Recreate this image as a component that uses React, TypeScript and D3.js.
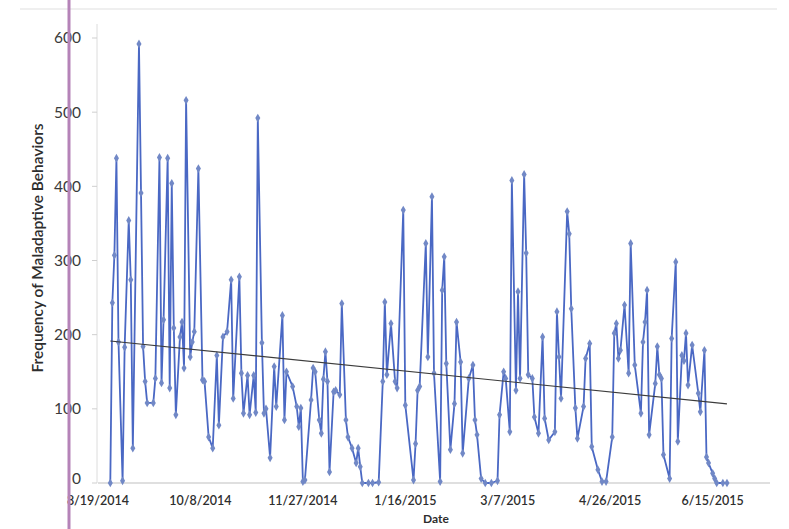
import { useEffect, useRef } from 'react'
import * as d3 from 'd3'

const dates = [
  '2014-08-25', '2014-08-26', '2014-08-27', '2014-08-28', '2014-08-29', '2014-08-31', '2014-09-01', '2014-09-03',
  '2014-09-04', '2014-09-05', '2014-09-08', '2014-09-09', '2014-09-10', '2014-09-11', '2014-09-12', '2014-09-15',
  '2014-09-16', '2014-09-18', '2014-09-19', '2014-09-20', '2014-09-22', '2014-09-23', '2014-09-24', '2014-09-25',
  '2014-09-26', '2014-09-28', '2014-09-29', '2014-09-30', '2014-10-01', '2014-10-03', '2014-10-04', '2014-10-05',
  '2014-10-07', '2014-10-09', '2014-10-10', '2014-10-12', '2014-10-14', '2014-10-16', '2014-10-17', '2014-10-19',
  '2014-10-21', '2014-10-23', '2014-10-24', '2014-10-27', '2014-10-28', '2014-10-29', '2014-10-31', '2014-11-01',
  '2014-11-03', '2014-11-04', '2014-11-05', '2014-11-07', '2014-11-08', '2014-11-09', '2014-11-11', '2014-11-13',
  '2014-11-14', '2014-11-17', '2014-11-18', '2014-11-19', '2014-11-22', '2014-11-24', '2014-11-25', '2014-11-26',
  '2014-11-27', '2014-11-28', '2014-12-01', '2014-12-02', '2014-12-03', '2014-12-05', '2014-12-06', '2014-12-07',
  '2014-12-08', '2014-12-09', '2014-12-10', '2014-12-12', '2014-12-13', '2014-12-15', '2014-12-16', '2014-12-18',
  '2014-12-19', '2014-12-21', '2014-12-23', '2014-12-24', '2014-12-25', '2014-12-26', '2014-12-29', '2014-12-31',
  '2015-01-03', '2015-01-05', '2015-01-06', '2015-01-07', '2015-01-09', '2015-01-11', '2015-01-12', '2015-01-15',
  '2015-01-16', '2015-01-20', '2015-01-21', '2015-01-22', '2015-01-23', '2015-01-26', '2015-01-27', '2015-01-29',
  '2015-01-30', '2015-02-02', '2015-02-03', '2015-02-04', '2015-02-05', '2015-02-07', '2015-02-09', '2015-02-10',
  '2015-02-12', '2015-02-13', '2015-02-16', '2015-02-18', '2015-02-19', '2015-02-20', '2015-02-22', '2015-02-24',
  '2015-02-27', '2015-03-02', '2015-03-03', '2015-03-05', '2015-03-06', '2015-03-08', '2015-03-09', '2015-03-11',
  '2015-03-12', '2015-03-13', '2015-03-15', '2015-03-16', '2015-03-17', '2015-03-19', '2015-03-20', '2015-03-22',
  '2015-03-24', '2015-03-25', '2015-03-27', '2015-03-30', '2015-03-31', '2015-04-01', '2015-04-02', '2015-04-05',
  '2015-04-06', '2015-04-07', '2015-04-09', '2015-04-10', '2015-04-13', '2015-04-14', '2015-04-16', '2015-04-17',
  '2015-04-20', '2015-04-22', '2015-04-24', '2015-04-27', '2015-04-28', '2015-04-29', '2015-04-30', '2015-05-01',
  '2015-05-03', '2015-05-05', '2015-05-06', '2015-05-08', '2015-05-11', '2015-05-12', '2015-05-13', '2015-05-14',
  '2015-05-15', '2015-05-18', '2015-05-19', '2015-05-20', '2015-05-21', '2015-05-22', '2015-05-25', '2015-05-26',
  '2015-05-28', '2015-05-29', '2015-05-31', '2015-06-01', '2015-06-02', '2015-06-03', '2015-06-05', '2015-06-08',
  '2015-06-09', '2015-06-11', '2015-06-12', '2015-06-13', '2015-06-15', '2015-06-16', '2015-06-17', '2015-06-20',
  '2015-06-22'
]

// frequency of maladaptive behaviors per day
const frequency = [
  0, 243, 307, 438, 190, 3, 183, 354,
  274, 47, 592, 391, 184, 137, 108, 108,
  141, 439, 135, 220, 438, 128, 404, 209,
  92, 197, 217, 155, 516, 170, 190, 204,
  424, 139, 137, 62, 47, 172, 78, 197,
  204, 274, 114, 278, 148, 94, 145, 92,
  145, 95, 492, 189, 94, 100, 34, 157,
  103, 226, 85, 150, 130, 103, 76, 101,
  2, 4, 112, 155, 150, 85, 67, 140,
  177, 137, 15, 123, 125, 119, 242, 85,
  62, 47, 27, 47, 22, 0, 0, 0,
  1, 137, 244, 146, 215, 137, 128, 368,
  105, 4, 53, 125, 130, 323, 170, 386,
  148, 2, 260, 305, 161, 45, 107, 217,
  163, 40, 141, 159, 85, 65, 6, 0,
  0, 3, 92, 150, 141, 69, 408, 125,
  258, 141, 416, 310, 146, 141, 89, 67,
  197, 87, 58, 69, 231, 170, 114, 366,
  336, 235, 101, 60, 103, 168, 188, 49,
  18, 2, 2, 62, 202, 215, 168, 179,
  240, 148, 323, 159, 94, 190, 217, 260,
  65, 134, 184, 146, 141, 38, 6, 195,
  298, 56, 172, 165, 202, 132, 186, 121,
  96, 179, 35, 27, 13, 6, 0, 0,
  0
]

const xTickDates = ['2014-08-19', '2014-10-08', '2014-11-27', '2015-01-16', '2015-03-07', '2015-04-26', '2015-06-15']
const yTicks = [0, 100, 200, 300, 400, 500, 600]

const W = 789
const H = 529

const App = () => {
  const svgRef = useRef<SVGSVGElement>(null)

  useEffect(() => {
    const svg = d3.select(svgRef.current)
    svg.selectAll('*').remove()

    const parse = d3.timeParse('%Y-%m-%d')
    const data = dates.map((d, i) => ({ date: parse(d) as Date, value: frequency[i] }))

    const xScale = d3.scaleTime()
      .domain([parse('2014-08-19') as Date, parse('2015-07-13') as Date])
      .range([98, 770])

    const yScale = d3.scaleLinear()
      .domain([0, 600])
      .range([483, 38])

    const font = 'Lato, "Open Sans", sans-serif'

    svg.append('rect')
      .attr('width', W)
      .attr('height', H)
      .attr('fill', '#ffffff')

    // faint frame of the scanned chart
    svg.append('line')
      .attr('x1', 20).attr('x2', W - 12)
      .attr('y1', 9).attr('y2', 9)
      .attr('stroke', '#efefef')
      .attr('stroke-width', 2)

    // axes lines
    svg.append('line')
      .attr('x1', xScale.range()[0]).attr('x2', xScale.range()[1])
      .attr('y1', yScale(0)).attr('y2', yScale(0))
      .attr('stroke', '#d4d4d4')
      .attr('stroke-width', 1.5)

    svg.append('line')
      .attr('x1', 97).attr('x2', 97)
      .attr('y1', 24).attr('y2', yScale(0))
      .attr('stroke', '#dcdcdc')
      .attr('stroke-width', 1)

    yTicks.forEach(t => {
      svg.append('line')
        .attr('x1', 92).attr('x2', 97)
        .attr('y1', yScale(t)).attr('y2', yScale(t))
        .attr('stroke', '#cfcfcf')

      svg.append('text')
        .attr('x', 81)
        .attr('y', yScale(t) - (t === 0 ? 4 : 0))
        .attr('dy', '0.35em')
        .attr('text-anchor', 'end')
        .style('font-family', font)
        .style('font-size', '15.5px')
        .style('fill', '#3a3a3a')
        .text(t)
    })

    const fmt = d3.timeFormat('%-m/%-d/%Y')
    xTickDates.forEach(s => {
      const d = parse(s) as Date
      svg.append('text')
        .attr('x', xScale(d))
        .attr('y', 505)
        .attr('text-anchor', 'middle')
        .style('font-family', font)
        .style('font-size', '12.5px')
        .style('font-weight', 600)
        .style('fill', '#2e2e2e')
        .text(fmt(d))
    })

    svg.append('text')
      .attr('x', 436)
      .attr('y', 523)
      .attr('text-anchor', 'middle')
      .style('font-family', font)
      .style('font-size', '12px')
      .style('font-weight', 700)
      .style('fill', '#2e2e2e')
      .text('Date')

    svg.append('text')
      .attr('transform', 'rotate(-90)')
      .attr('x', -248)
      .attr('y', 43)
      .attr('text-anchor', 'middle')
      .style('font-family', font)
      .style('font-size', '15.5px')
      .style('font-weight', 600)
      .style('fill', '#2e2e2e')
      .text('Frequency of Maladaptive Behaviors')

    // series
    const line = d3.line<{ date: Date, value: number }>()
      .x(d => xScale(d.date))
      .y(d => yScale(d.value))

    svg.append('path')
      .datum(data)
      .attr('fill', 'none')
      .attr('stroke', '#4a68c4')
      .attr('stroke-width', 1.8)
      .attr('stroke-linejoin', 'round')
      .attr('d', line)

    const diamond = d3.symbol().type(d3.symbolDiamond).size(22)
    svg.append('g')
      .selectAll('path')
      .data(data)
      .join('path')
      .attr('transform', d => `translate(${xScale(d.date)},${yScale(d.value)})`)
      .attr('d', diamond)
      .attr('fill', '#7188c6')

    // linear trendline (least squares on date)
    const xs = data.map(d => +d.date)
    const ys = data.map(d => d.value)
    const mx = d3.mean(xs) as number
    const my = d3.mean(ys) as number
    const slope = d3.sum(xs, (x, i) => (x - mx) * (ys[i] - my)) / d3.sum(xs, x => (x - mx) ** 2)
    const [x0, x1] = d3.extent(data, d => d.date) as [Date, Date]
    const trend = (d: Date) => my + slope * (+d - mx)

    svg.append('line')
      .attr('x1', xScale(x0)).attr('x2', xScale(x1))
      .attr('y1', yScale(trend(x0))).attr('y2', yScale(trend(x1)))
      .attr('stroke', '#3c3c3c')
      .attr('stroke-width', 1.1)

    // pink scan mark running down the page
    svg.append('line')
      .attr('x1', 69).attr('x2', 69)
      .attr('y1', 0).attr('y2', H)
      .attr('stroke', '#b583b8')
      .attr('stroke-width', 3)
  }, [])

  return (
    <svg ref={svgRef} width={W} height={H} style={{ position: 'absolute', left: 0, top: 0 }}></svg>
  )
}

export default App
